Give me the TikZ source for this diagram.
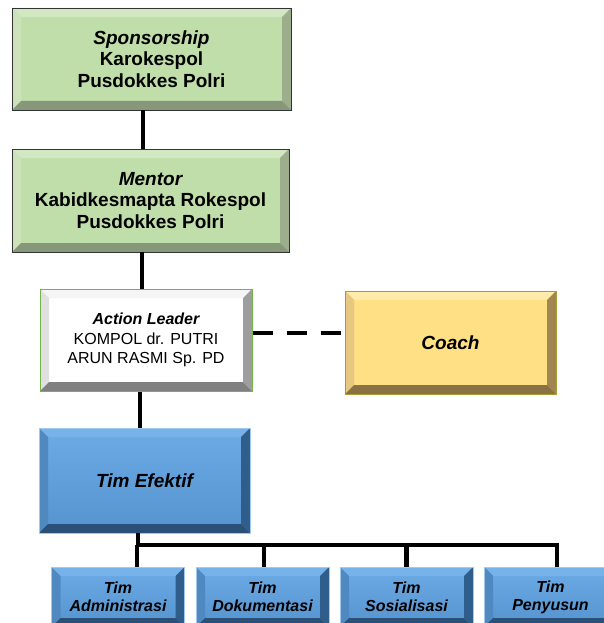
\documentclass[tikz,border=0pt]{standalone}
\usepackage{fontspec}
\setmainfont{Liberation Sans}
\usepackage{xcolor}
\usepackage{tikz}
\usetikzlibrary{positioning, calc}

\definecolor{grnface}{HTML}{C0DEAA}
\definecolor{grntop}{HTML}{D2E8C2}
\definecolor{grnleft}{HTML}{CCE3BA}
\definecolor{grnright}{HTML}{9CAE8C}
\definecolor{grnbot}{HTML}{87987A}
\definecolor{ylwface}{HTML}{FFE084}
\definecolor{ylwtop}{HTML}{FFEBAA}
\definecolor{ylwleft}{HTML}{E6C880}
\definecolor{ylwright}{HTML}{A08650}
\definecolor{ylwbot}{HTML}{8A7244}
\definecolor{bluface}{HTML}{5CA0E0}
\definecolor{blutop}{HTML}{78B2EA}
\definecolor{bluleft}{HTML}{5088C0}
\definecolor{bluright}{HTML}{305E8C}
\definecolor{blubot}{HTML}{2B5077}
\definecolor{leadgreen}{HTML}{72B446}

\newcommand\bigtxt{\fontsize{19}{21.5}\selectfont\bfseries}
\newcommand\leadtxt{\fontsize{16}{19.5}\selectfont}
\newcommand\smalltxt{\fontsize{16}{18}\selectfont\bfseries\itshape}

\tikzset{
  bevel/.style n args={4}{path picture={
    \path (path picture bounding box.north west) coordinate (bnw)
          (path picture bounding box.north east) coordinate (bne)
          (path picture bounding box.south west) coordinate (bsw)
          (path picture bounding box.south east) coordinate (bse);
    \fill[#1] (bnw) -- (bne) -- ([shift={(-9pt,-9pt)}]bne) -- ([shift={(9pt,-9pt)}]bnw) -- cycle;
    \fill[#2] (bnw) -- ([shift={(9pt,-9pt)}]bnw) -- ([shift={(9pt,9pt)}]bsw) -- (bsw) -- cycle;
    \fill[#3] (bne) -- (bse) -- ([shift={(-9pt,9pt)}]bse) -- ([shift={(-9pt,-9pt)}]bne) -- cycle;
    \fill[#4] (bsw) -- (bse) -- ([shift={(-9pt,9pt)}]bse) -- ([shift={(9pt,9pt)}]bsw) -- cycle;
  }},
  box/.style={inner sep=0pt, align=center},
  greenbox/.style={box, fill=grnface, draw=black!80, line width=0.8pt,
    bevel={grntop}{grnleft}{grnright}{grnbot}, font=\bigtxt},
  leadbox/.style={box, fill=white, draw=leadgreen, line width=1pt,
    bevel={black!4}{black!12}{black!38}{black!50}, font=\leadtxt},
  coachbox/.style={box, fill=ylwface, draw=ylwbot!70!yellow, line width=0.8pt,
    bevel={ylwtop}{ylwleft}{ylwright}{ylwbot}, font=\bigtxt\itshape},
  bluebox/.style={box, top color=blutop!60!bluface, bottom color=bluface!92!black,
    draw=blutop!70!white, line width=0.6pt,
    bevel={blutop}{bluleft}{bluright}{blubot}},
  conn/.style={line width=4.5pt, black}
}

\begin{document}
\begin{tikzpicture}[x=1pt, y=-1pt]
\useasboundingbox (0,0) rectangle (604,623);

% top of the chart
\node[greenbox, minimum width=279pt, minimum height=102pt] (spons) at (151.5,59)
  {\itshape Sponsorship\\Karokespol\\Pusdokkes Polri};
\node[greenbox, minimum width=277pt, minimum height=103pt] (mentor) at (150.5,200.5)
  {\itshape Mentor\\Kabidkesmapta Rokespol\\Pusdokkes Polri};

% leader and coach
\node[leadbox, minimum width=212pt, minimum height=102pt] (leader) at (146,340)
  {\bfseries\itshape Action Leader\\KOMPOL dr. PUTRI\\ARUN RASMI Sp. PD};
\node[coachbox, minimum width=211pt, minimum height=103pt] (coach) at (450.5,342.5) {Coach};

% team
\node[bluebox, font=\bigtxt\itshape, minimum width=211pt, minimum height=105pt] (efektif)
  at (144.5,480.5) {Tim Efektif};

\foreach \n/\x/\t in {adm/118/Administrasi, dok/262.5/Dokumentasi,
                      sos/406.5/Sosialisasi, pen/550.5/Penyusun}
  \node[bluebox, font=\smalltxt, minimum width=133pt, minimum height=60pt] (\n)
    at (\x,597) {Tim\\\t};

% connectors
\draw[conn] ([xshift=-8.5pt]spons.south) -- ([xshift=-8.5pt]spons.south |- mentor.north);
\draw[conn] ([xshift=-8.5pt]mentor.south) -- ([xshift=-8.5pt]mentor.south |- leader.north);
\draw[conn, dash pattern=on 20pt off 14pt] ([yshift=7pt]leader.east) -- ([yshift=7pt]leader.east -| coach.west);
\draw[conn] ([xshift=-6pt]leader.south) -- ([xshift=-6pt]leader.south |- efektif.north);

\coordinate (bus) at ([xshift=-6.5pt]efektif.south |- 0,545);
\draw[conn] ([xshift=-6.5pt]efektif.south) -- (bus);
\draw[conn, line cap=rect] (bus) -- (bus -| 557,0);
\foreach \n/\dx in {adm/19, dok/1.5, sos/0, pen/6.5}
  \draw[conn] ([xshift=\dx pt]\n.north) -- ([xshift=\dx pt]\n.north |- bus);
\end{tikzpicture}
\end{document}
